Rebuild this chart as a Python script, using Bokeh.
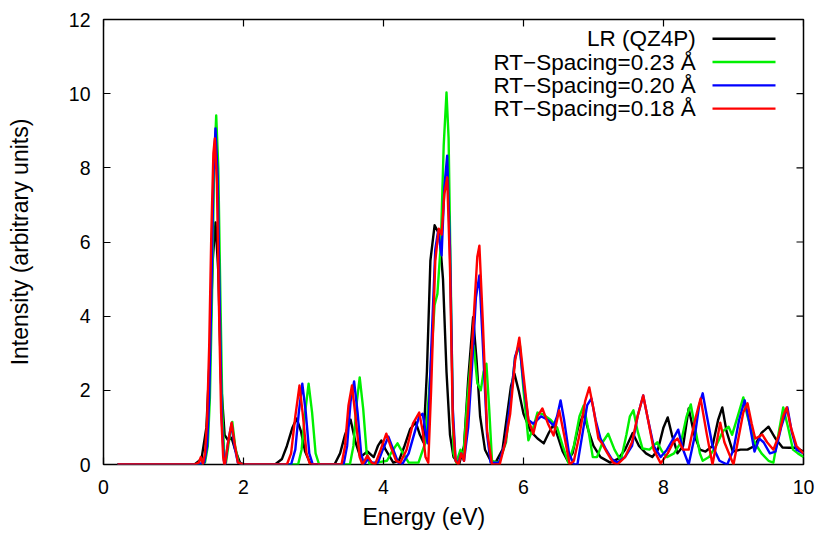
from bokeh.plotting import figure
from bokeh.models import Range1d, FixedTicker, Label, Arrow, Title
from bokeh.embed import file_html
from bokeh.resources import INLINE

# ---- data (energy eV, intensity) ----
lr_points = [
    (0.2, 0), (1.30, 0), (1.40, 0.15), (1.47, 1.0), (1.52, 3.0), (1.56, 5.5), (1.60, 6.53), (1.64, 5.2),
    (1.68, 2.2), (1.73, 0.8), (1.78, 0.65), (1.83, 0.72), (1.88, 0.4), (1.95, 0.05), (2.0, 0), (2.45, 0),
    (2.55, 0.15), (2.62, 0.5), (2.70, 1.0), (2.76, 1.24), (2.82, 0.9), (2.88, 0.35), (2.95, 0.05), (3.0, 0),
    (3.30, 0), (3.38, 0.3), (3.45, 0.8), (3.53, 1.21), (3.60, 0.6), (3.67, 0.2), (3.77, 0.35), (3.86, 0.2),
    (3.92, 0.5), (3.97, 0.65), (4.03, 0.4), (4.14, 0.05), (4.22, 0.1), (4.30, 0.5), (4.38, 0.95), (4.46, 1.14),
    (4.52, 0.8), (4.57, 0.6), (4.62, 2.5), (4.67, 5.5), (4.73, 6.45), (4.80, 6.2), (4.85, 5.0), (4.90, 2.5),
    (4.95, 0.8), (5.0, 0.2), (5.08, 0.0), (5.15, 0.5), (5.21, 2.3), (5.28, 3.97), (5.33, 2.8), (5.38, 1.3),
    (5.45, 0.4), (5.53, 0.1), (5.60, 0.05), (5.70, 0.4), (5.77, 1.4), (5.82, 2.1), (5.87, 2.45), (5.93, 2.0),
    (6.0, 1.37), (6.1, 0.9), (6.2, 0.7), (6.29, 0.57), (6.36, 0.85), (6.43, 1.08), (6.50, 0.7), (6.56, 0.35),
    (6.63, 0.1), (6.70, 0.3), (6.78, 1.0), (6.86, 1.37), (6.93, 0.9), (7.0, 0.5), (7.1, 0.2), (7.24, 0.05),
    (7.35, 0.15), (7.45, 0.4), (7.56, 0.85), (7.65, 0.5), (7.75, 0.3), (7.84, 0.2), (7.92, 0.4), (8.0, 1.0),
    (8.06, 1.27), (8.12, 0.8), (8.2, 0.3), (8.28, 0.5), (8.36, 1.51), (8.44, 0.8), (8.52, 0.4), (8.60, 0.35),
    (8.70, 0.5), (8.78, 1.2), (8.84, 1.54), (8.90, 0.9), (8.99, 0.35), (9.1, 0.4), (9.2, 0.4), (9.3, 0.5),
    (9.4, 0.85), (9.5, 1.02), (9.6, 0.7), (9.7, 0.46), (9.8, 0.45), (9.9, 0.45), (10.0, 0.35),
]

rt023_points = [
    (0.2, 0), (1.35, 0), (1.45, 0.05), (1.49, 0.5), (1.52, 1.8), (1.55, 4.5), (1.58, 8.0), (1.61, 9.41),
    (1.64, 8.0), (1.67, 4.5), (1.70, 1.3), (1.73, 0.1), (1.75, 0.05), (1.79, 0.6), (1.84, 1.15), (1.88, 0.5),
    (1.93, 0.05), (2.0, 0),
    (2.78, 0), (2.83, 0.4), (2.88, 1.4), (2.93, 2.18), (2.98, 1.4), (3.03, 0.3), (3.08, 0), (3.52, 0),
    (3.57, 0.5), (3.62, 1.7), (3.66, 2.35), (3.71, 1.5), (3.76, 0.3), (3.80, 0.02), (3.9, 0.05), (4.05, 0.1),
    (4.12, 0.35), (4.20, 0.57), (4.28, 0.3), (4.36, 0.05), (4.5, 0.05), (4.60, 0.6), (4.67, 2.5), (4.73, 4.3),
    (4.77, 4.6), (4.82, 6.0), (4.86, 8.6), (4.90, 10.03), (4.93, 8.8), (4.97, 3.8), (5.00, 0.3), (5.04, 0.05),
    (5.10, 0.4), (5.14, 0.2), (5.20, 1.8), (5.26, 3.1), (5.29, 3.2), (5.34, 2.2), (5.39, 2.0), (5.43, 2.5),
    (5.47, 2.72), (5.51, 1.5), (5.55, 0.1), (5.65, 0.05), (5.75, 0.6), (5.82, 1.8), (5.88, 2.9), (5.95, 3.2),
    (6.0, 2.0), (6.07, 0.65), (6.14, 1.0), (6.20, 1.4), (6.28, 1.35), (6.39, 1.2), (6.48, 1.0), (6.56, 0.5),
    (6.64, 0.05), (6.72, 0.5), (6.80, 1.3), (6.86, 1.59), (6.92, 1.0), (6.99, 0.2), (7.05, 0.2), (7.13, 0.6),
    (7.21, 0.83), (7.30, 0.4), (7.39, 0.1), (7.47, 0.8), (7.52, 1.3), (7.57, 1.46), (7.63, 0.9), (7.70, 0.43),
    (7.80, 0.4), (7.91, 0.6), (7.98, 0.35), (8.05, 0.2), (8.15, 0.3), (8.25, 0.6), (8.33, 1.3), (8.39, 1.62),
    (8.45, 1.0), (8.52, 0.3), (8.56, 0.1), (8.65, 0.2), (8.75, 0.5), (8.85, 0.9), (8.93, 1.02), (8.98, 0.8),
    (9.06, 1.3), (9.14, 1.81), (9.2, 1.3), (9.3, 0.6), (9.4, 0.3), (9.5, 0.1), (9.57, 0.05), (9.64, 0.8),
    (9.71, 1.54), (9.78, 1.0), (9.85, 0.4), (9.92, 0.3), (10.0, 0.2),
]

rt020_points = [
    (0.2, 0), (1.35, 0), (1.44, 0.05), (1.48, 0.5), (1.51, 1.8), (1.54, 4.5), (1.57, 7.8), (1.60, 9.06),
    (1.63, 7.8), (1.66, 4.3), (1.69, 1.2), (1.72, 0.1), (1.74, 0.02), (1.78, 0.6), (1.83, 1.1), (1.87, 0.5),
    (1.92, 0.05), (2.0, 0),
    (2.68, 0), (2.74, 0.4), (2.79, 1.4), (2.84, 2.18), (2.89, 1.4), (2.94, 0.3), (2.99, 0), (3.43, 0),
    (3.48, 0.5), (3.53, 1.7), (3.58, 2.24), (3.63, 1.4), (3.68, 0.3), (3.72, 0.0), (3.78, 0.15), (3.84, 0.05),
    (3.92, 0.05), (3.99, 0.4), (4.07, 0.75), (4.14, 0.4), (4.21, 0.05), (4.27, 0.02), (4.36, 0.3), (4.45, 0.9),
    (4.51, 1.3), (4.56, 1.37), (4.60, 0.9), (4.63, 0.57), (4.68, 3.0), (4.74, 5.8), (4.78, 6.3), (4.83, 5.64),
    (4.87, 7.5), (4.91, 8.33), (4.95, 5.8), (4.99, 1.5), (5.03, 0.1), (5.07, 0.05), (5.11, 0.3), (5.15, 0.1),
    (5.21, 1.0), (5.27, 2.8), (5.32, 4.5), (5.37, 5.1), (5.42, 3.2), (5.48, 0.8), (5.53, 0.05), (5.65, 0.05),
    (5.74, 0.6), (5.82, 1.8), (5.88, 2.9), (5.94, 3.26), (6.0, 2.2), (6.07, 1.2), (6.14, 1.1), (6.25, 1.3),
    (6.35, 1.2), (6.43, 1.05), (6.48, 1.3), (6.53, 1.73), (6.58, 1.2), (6.65, 0.3), (6.72, 0.0), (6.77, 0.0),
    (6.84, 0.8), (6.91, 1.6), (6.97, 1.78), (7.03, 1.2), (7.10, 0.7), (7.18, 0.4), (7.26, 0.15), (7.34, 0.05),
    (7.45, 0.2), (7.55, 0.5), (7.63, 1.3), (7.71, 1.86), (7.78, 1.2), (7.86, 0.5), (7.96, 0.2), (8.05, 0.4),
    (8.14, 0.7), (8.21, 0.94), (8.28, 0.4), (8.36, 0.0), (8.45, 0.8), (8.51, 1.6), (8.56, 1.92), (8.62, 1.3),
    (8.70, 0.5), (8.80, 0.1), (8.91, 0.0), (9.0, 0.4), (9.08, 1.2), (9.16, 1.73), (9.22, 1.2), (9.30, 0.35),
    (9.37, 0.7), (9.43, 0.6), (9.52, 0.3), (9.60, 0.35), (9.68, 1.0), (9.77, 1.54), (9.83, 0.9), (9.90, 0.4),
    (10.0, 0.3),
]

rt018_points = [
    (0.2, 0), (1.30, 0), (1.36, 0.05), (1.39, 0.2), (1.42, 0.02), (1.45, 0.3), (1.48, 1.2), (1.51, 3.2),
    (1.54, 6.2), (1.57, 8.4), (1.59, 8.79), (1.62, 7.6), (1.65, 4.2), (1.68, 1.4), (1.71, 0.2), (1.73, -0.05),
    (1.78, 0.6), (1.83, 1.13), (1.87, 0.6), (1.92, 0.05), (2.0, 0),
    (2.62, 0), (2.68, 0.3), (2.74, 1.3), (2.80, 2.13), (2.85, 1.3), (2.90, 0.3),
    (2.95, 0), (3.40, 0), (3.45, 0.5), (3.50, 1.6), (3.55, 2.13), (3.60, 1.3), (3.66, 0.2), (3.70, 0.0),
    (3.77, 0.24), (3.83, 0.05), (3.88, 0.0), (3.96, 0.4), (4.04, 0.83), (4.11, 0.45), (4.18, 0.1), (4.24, 0.05),
    (4.33, 0.4), (4.42, 1.1), (4.51, 1.40), (4.56, 0.9), (4.60, 0.2), (4.64, 0.05), (4.68, 2.0), (4.74, 5.5),
    (4.79, 6.36), (4.83, 6.2), (4.87, 7.3), (4.91, 7.74), (4.95, 5.3), (4.99, 1.2), (5.03, 0.1), (5.07, 0.0),
    (5.11, 0.3), (5.15, 0.1), (5.21, 1.5), (5.29, 4.0), (5.34, 5.6), (5.37, 5.9), (5.42, 3.8), (5.48, 0.9),
    (5.55, 0.0),
    (5.66, 0.0), (5.74, 0.6), (5.81, 1.37), (5.88, 2.8), (5.94, 3.42), (6.0, 2.4), (6.07, 1.2), (6.14, 0.83),
    (6.20, 1.3), (6.27, 1.51), (6.35, 1.1), (6.43, 0.78), (6.51, 1.46), (6.58, 0.8), (6.66, 0.0), (6.72, 0.1),
    (6.80, 0.8), (6.88, 1.7), (6.94, 2.08), (7.0, 1.5), (7.07, 0.7), (7.12, 0.57), (7.20, 0.3), (7.28, 0.05),
    (7.34, 0.0), (7.45, 0.2), (7.55, 0.6), (7.63, 1.3), (7.71, 1.86), (7.78, 1.2), (7.86, 0.4), (7.96, 0.03),
    (8.06, 0.3), (8.14, 0.6), (8.20, 0.7), (8.28, 0.4), (8.36, 0.4), (8.45, 1.2), (8.53, 1.78), (8.62, 0.8),
    (8.70, 0.0), (8.76, 0.6), (8.81, 1.13), (8.87, 0.6), (9.0, 0.0), (9.08, 0.8), (9.14, 1.4), (9.20, 1.65),
    (9.26, 1.1), (9.31, 0.7), (9.36, 0.75), (9.41, 0.81), (9.48, 0.6), (9.57, 0.4), (9.65, 0.8), (9.71, 1.3),
    (9.76, 1.54), (9.82, 1.0), (9.90, 0.5), (10.0, 0.3),
]

series_labels = ["LR (QZ4P)", "RT\u2212Spacing=0.23 \u00c5", "RT\u2212Spacing=0.20 \u00c5", "RT\u2212Spacing=0.18 \u00c5"]
series_colors = ["#000000", "#00f000", "#0000ff", "#ff0000"]
series_points = [lr_points, rt023_points, rt020_points, rt018_points]

x_ticks = [0, 2, 4, 6, 8, 10]
y_ticks = [0, 2, 4, 6, 8, 10, 12]
x_title = "Energy (eV)"
y_title = "Intensity (arbitrary units)"

FONT = "Liberation Sans"
X_MIN, X_MAX, Y_MIN, Y_MAX = 0, 10, 0, 12
FRAME_W, FRAME_H = 700, 445
TICK_PX = 7

p = figure(width=820, height=535, output_backend="svg", toolbar_location=None,
           x_range=Range1d(X_MIN, X_MAX), y_range=Range1d(Y_MIN, Y_MAX),
           min_border_left=103, min_border_right=17, min_border_top=19, min_border_bottom=71)
p.background_fill_color = "white"
p.border_fill_color = "white"
p.grid.visible = False
p.outline_line_color = "black"
p.outline_line_width = 1.5

for ax, ticks in ((p.xaxis[0], x_ticks), (p.yaxis[0], y_ticks)):
    ax.ticker = FixedTicker(ticks=ticks)
    ax.major_tick_in = TICK_PX
    ax.major_tick_out = 0
    ax.minor_tick_line_color = None
    ax.axis_line_color = None
    ax.major_tick_line_width = 1.2
    ax.major_label_text_font = FONT
    ax.major_label_text_font_size = "19.5px"
    ax.major_label_text_color = "black"
p.xaxis[0].major_label_standoff = 15
p.yaxis[0].major_label_standoff = 13
p.yaxis[0].axis_label = y_title
p.yaxis[0].axis_label_text_font = FONT
p.yaxis[0].axis_label_text_font_size = "23px"
p.yaxis[0].axis_label_text_font_style = "normal"
p.yaxis[0].axis_label_text_color = "black"
p.yaxis[0].axis_label_standoff = 33

# mirrored inward tick marks on the top and right frame edges
dy_tick = TICK_PX * (Y_MAX - Y_MIN) / FRAME_H
dx_tick = TICK_PX * (X_MAX - X_MIN) / FRAME_W
p.segment(x0=x_ticks, y0=[Y_MAX] * len(x_ticks), x1=x_ticks, y1=[Y_MAX - dy_tick] * len(x_ticks),
          line_color="black", line_width=1.2)
p.segment(x0=[X_MAX] * len(y_ticks), y0=y_ticks, x1=[X_MAX - dx_tick] * len(y_ticks), y1=y_ticks,
          line_color="black", line_width=1.2)

# x axis title below the tick labels
p.add_layout(Title(text=x_title, align="left", offset=251, text_font=FONT, text_font_size="23px",
                   text_font_style="normal", text_color="black", padding=(8, 0, 0, 0)), "below")

for pts, col in zip(series_points, series_colors):
    xs = [a for a, b in pts]
    ys = [b for a, b in pts]
    p.line(xs, ys, line_color=col, line_width=2.4, line_join="round")

# legend: text on the left, line sample on the right
leg_text_x = 8.46
leg_line_x0, leg_line_x1 = 8.70, 9.60
leg_y0, leg_dy = 11.48, 0.628
for i, (lab, col) in enumerate(zip(series_labels, series_colors)):
    yy = leg_y0 - i * leg_dy
    p.add_layout(Label(x=leg_text_x, y=yy, text=lab, text_align="right", text_baseline="middle",
                       text_font=FONT, text_font_size="22.5px", text_color="black"))
    p.add_layout(Arrow(x_start=leg_line_x0, y_start=yy, x_end=leg_line_x1, y_end=yy, end=None,
                       line_color=col, line_width=2.4))

open("out.html", "w").write(file_html(p, INLINE))
